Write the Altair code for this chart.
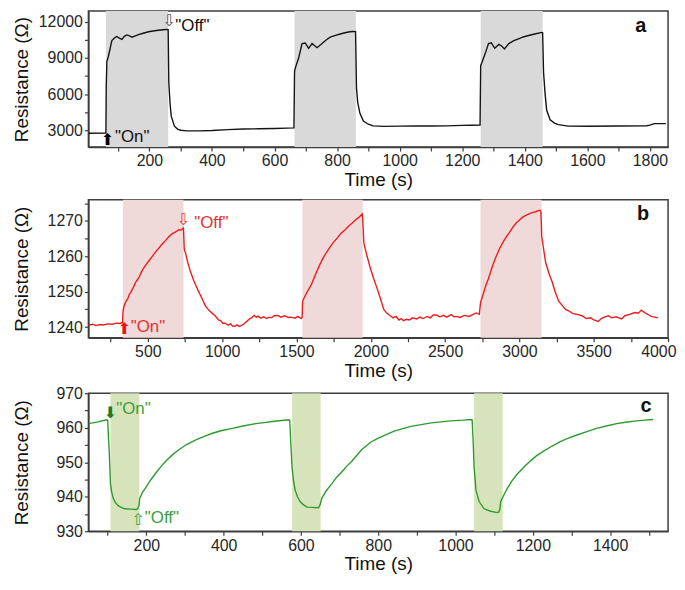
import altair as alt
import pandas as pd

FONT = "Liberation Sans"
GLYPH_FONT = "DejaVu Sans"

# ---------------- panel a ----------------
a_time = [5, 61, 62, 64, 69, 80, 90, 96, 104, 112, 120, 128, 136, 144, 155, 165, 180, 197, 212, 228,
          244, 258, 260, 262, 266, 270, 280, 290, 300, 320, 360, 400, 450, 500, 550, 600, 640, 662,
          664, 667, 677, 688, 698, 709, 720, 736, 752, 765, 778, 795, 810, 825, 841, 852, 859, 862,
          866, 873, 884, 900, 915, 950, 1000, 1050, 1100, 1150, 1200, 1230, 1257, 1259, 1263, 1274,
          1284, 1293, 1304, 1317, 1326, 1335, 1349, 1365, 1380, 1395, 1412, 1432, 1454, 1457, 1460,
          1465, 1470, 1481, 1495, 1507, 1539, 1600, 1700, 1790, 1800, 1814, 1851]
a_res = [2750, 2760, 6500, 8700, 9150, 10450, 10700, 10790, 10650, 10550, 10800, 10920, 10850, 10730,
         10850, 10950, 11060, 11180, 11250, 11310, 11350, 11380, 11350, 7000, 5200, 4150, 3340, 3100,
         3000, 2950, 2950, 2980, 3050, 3100, 3120, 3150, 3180, 3200, 7900, 8220, 9000, 10200, 10250,
         9810, 10200, 9860, 10200, 10500, 10730, 10880, 11000, 11100, 11180, 11210, 11200, 6500, 5300,
         4400, 3760, 3500, 3360, 3320, 3340, 3350, 3350, 3360, 3400, 3410, 3420, 8360, 8620, 9410,
         10200, 10260, 9810, 10130, 10000, 9760, 10200, 10450, 10600, 10750, 10870, 11000, 11130,
         11100, 7800, 6000, 4660, 3870, 3600, 3470, 3340, 3330, 3350, 3370, 3420, 3550, 3550]
a_shade_start = [61, 664, 1259]
a_shade_end = [260, 860, 1457]
a_arrow_t = [66, 262]
a_arrow_r = [2150, 12050]
a_arrow_glyph = ["⬆", "⇩"]
a_label_t = [90, 283]
a_label_r = [2420, 11680]
a_label_text = ['"On"', '"Off"']
a_xticks = list(range(100, 1900, 100))
a_yticks = [3000, 4500, 6000, 7500, 9000, 10500, 12000]

# ---------------- panel b ----------------
b_time = [100, 130, 150, 180, 200, 230, 260, 290, 310, 330, 333, 340, 353, 365, 375, 387, 400, 420,
          442, 460, 480, 509, 530, 555, 576, 600, 620, 642, 665, 690, 709, 725, 738, 740, 745, 753,
          770, 787, 810, 842, 865, 887, 910, 930, 953, 975, 990, 1005, 1020, 1040, 1055, 1070, 1087,
          1100, 1115, 1131, 1150, 1170, 1185, 1198, 1215, 1230, 1242, 1260, 1280, 1300, 1315, 1331,
          1350, 1376, 1395, 1420, 1445, 1464, 1490, 1510, 1531, 1538, 1541, 1560, 1580, 1600, 1625,
          1650, 1675, 1700, 1725, 1750, 1775, 1800, 1825, 1850, 1875, 1900, 1920, 1942, 1946, 1953,
          1975, 1998, 2020, 2042, 2065, 2087, 2110, 2131, 2150, 2170, 2190, 2205, 2220, 2240, 2260,
          2280, 2309, 2330, 2350, 2380, 2400, 2420, 2442, 2465, 2490, 2510, 2540, 2560, 2576, 2600,
          2630, 2660, 2690, 2709, 2730, 2738, 2750, 2776, 2790, 2800, 2820, 2840, 2864, 2890, 2910,
          2931, 2960, 2980, 2998, 3020, 3040, 3064, 3090, 3110, 3125, 3138, 3145, 3150, 3176, 3200,
          3220, 3240, 3264, 3290, 3310, 3331, 3360, 3390, 3420, 3450, 3480, 3500, 3531, 3550, 3575,
          3598, 3620, 3650, 3687, 3710, 3740, 3776, 3800, 3820, 3845, 3870, 3887, 3910, 3931]
b_res = [1240.5, 1240.8, 1240.4, 1240.7, 1240.6, 1240.9, 1240.8, 1241.1, 1241.0, 1241.3, 1244.5,
         1246.0, 1247.3, 1248.0, 1249.2, 1250.0, 1251.0, 1252.8, 1254.2, 1255.8, 1257.2, 1258.8,
         1260.0, 1261.4, 1262.4, 1263.6, 1264.5, 1265.6, 1266.4, 1267.0, 1267.5, 1267.4, 1268.0,
         1267.6, 1262.0, 1261.0, 1258.0, 1255.6, 1253.0, 1250.0, 1248.0, 1246.0, 1244.8, 1244.0,
         1243.2, 1242.0, 1241.8, 1241.0, 1241.1, 1240.5, 1240.9, 1240.3, 1240.2, 1240.6, 1240.2,
         1240.5, 1241.0, 1241.8, 1242.3, 1242.6, 1243.3, 1242.8, 1243.1, 1242.5, 1242.9, 1242.4,
         1242.8, 1242.6, 1243.2, 1243.3, 1242.8, 1243.2, 1242.7, 1242.8, 1242.5, 1243.0, 1242.4,
         1242.8, 1247.3, 1249.0, 1250.5, 1252.0, 1254.6, 1257.0, 1259.2, 1261.0, 1262.6, 1264.0,
         1265.2, 1266.5, 1267.4, 1268.5, 1269.4, 1270.4, 1271.0, 1272.0, 1270.5, 1263.8, 1260.0,
         1256.5, 1253.6, 1251.0, 1248.0, 1245.0, 1243.8, 1243.2, 1242.6, 1243.0, 1242.0, 1242.4,
         1241.8, 1242.2, 1242.0, 1242.6, 1242.3, 1242.8, 1242.4, 1243.0, 1242.6, 1243.4, 1243.4,
         1242.9, 1243.3, 1242.8, 1243.5, 1242.9, 1243.0, 1242.7, 1243.3, 1243.0, 1243.6, 1244.0,
         1243.6, 1246.8, 1248.5, 1252.0, 1253.5, 1254.8, 1257.4, 1259.6, 1262.0, 1264.0, 1265.4,
         1266.6, 1268.5, 1269.5, 1270.2, 1271.0, 1271.5, 1272.0, 1272.4, 1272.6, 1272.9, 1273.0,
         1272.4, 1265.6, 1258.3, 1255.0, 1252.8, 1250.0, 1247.3, 1246.0, 1245.0, 1244.6, 1243.8,
         1243.6, 1243.2, 1242.4, 1242.6, 1242.0, 1241.6, 1242.4, 1242.9, 1243.2, 1242.6, 1242.9,
         1242.3, 1243.2, 1243.6, 1244.1, 1243.9, 1244.8, 1244.0, 1243.4, 1243.0, 1242.8, 1242.6]
b_shade_start = [333, 1540, 2738]
b_shade_end = [740, 1945, 3149]
b_arrow_t = [340, 737]
b_arrow_r = [1239.4, 1270.3]
b_arrow_glyph = ["⬆", "⇩"]
b_label_t = [385, 812]
b_label_r = [1240.0, 1269.3]
b_label_text = ['"On"', '"Off"']
b_xticks = list(range(250, 4250, 250))
b_yticks = [1240, 1245, 1250, 1255, 1260, 1265, 1270, 1275]

# ---------------- panel c ----------------
c_time = [50, 75, 97, 100, 102, 104, 107, 110, 114, 120, 127, 135, 144, 160, 174, 178, 181, 183, 190,
          200, 212, 226, 238, 251, 268, 285, 305, 328, 350, 371, 395, 423, 450, 483, 505, 526, 550,
          568, 571, 574, 577, 581, 585, 591, 598, 606, 616, 630, 641, 646, 650, 654, 666, 680, 692,
          705, 718, 731, 757, 780, 800, 843, 885, 937, 988, 1020, 1040, 1043, 1046, 1048, 1053,
          1061, 1074, 1091, 1108, 1112, 1115, 1117, 1125, 1134, 1146, 1160, 1177, 1194, 1210, 1228,
          1250, 1271, 1292, 1314, 1340, 1365, 1390, 1417, 1440, 1468, 1490, 1511]
c_res = [961.2, 961.7, 962.3, 962.2, 957.0, 953.0, 943.8, 941.5, 939.6, 938.3, 937.4, 936.9, 936.5,
         936.4, 936.3, 936.6, 937.5, 939.6, 941.3, 942.9, 945.0, 947.1, 948.8, 950.4, 952.2, 953.7,
         955.2, 956.5, 957.5, 958.4, 959.2, 959.8, 960.5, 961.2, 961.5, 961.8, 962.1, 962.3, 962.2,
         955.0, 948.5, 944.5, 941.9, 940.0, 938.6, 937.7, 937.0, 936.9, 936.8, 936.9, 937.8, 939.6,
         941.8, 943.8, 945.6, 947.1, 948.8, 950.2, 953.6, 955.8, 957.0, 959.1, 960.4, 961.4, 962.0,
         962.2, 962.4, 962.3, 955.0, 948.5, 941.9, 938.6, 936.5, 935.8, 935.4, 935.6, 936.5, 938.6,
         940.5, 942.4, 944.6, 946.6, 948.6, 950.4, 951.9, 953.2, 954.7, 956.0, 957.0, 957.9, 958.9,
         959.8, 960.5, 961.2, 961.6, 962.0, 962.2, 962.4]
c_shade_start = [107, 577, 1048]
c_shade_end = [182, 651, 1122]
c_arrow_t = [106, 178]
c_arrow_r = [964.4, 933.2]
c_arrow_glyph = ["⬇", "⇧"]
c_label_t = [122, 196]
c_label_r = [965.4, 933.9]
c_label_text = ['"On"', '"Off"']
c_xticks = list(range(100, 1600, 100))
c_yticks = list(range(930, 975, 5))

WIDTH = 584


def panel(time, res, s0, s1, arrow_t, arrow_r, arrow_g, lab_t, lab_r, lab_txt, letter, letter_t,
          letter_r, xdom, ydom, xticks, xstep, yticks, ystep, line_color, shade_color,
          arrow_colors, text_color, height, flush=False):
    xs = alt.Scale(domain=xdom, nice=False, zero=False)
    ys = alt.Scale(domain=ydom, nice=False, zero=False)
    xkw = {"labelFlush": True, "labelFlushOffset": 8} if flush else {}
    xa = alt.Axis(title="Time (s)", values=xticks, format="d",
                  labelExpr=f"datum.value % {xstep} === 0 ? datum.label : ''", **xkw)
    ya = alt.Axis(title="Resistance (Ω)", values=yticks, format="d",
                  labelExpr=f"datum.value % {ystep} === 0 ? datum.label : ''",
                  minExtent=50, maxExtent=50, titlePadding=7)

    def X(f):
        return alt.X(f, type="quantitative", scale=xs, axis=xa)

    def Y(f):
        return alt.Y(f, type="quantitative", scale=ys, axis=ya)

    shade = alt.Chart(pd.DataFrame({"s": s0, "e": s1})).mark_rect(
        color=shade_color).encode(x=X("s"), x2="e")
    line = alt.Chart(pd.DataFrame({"t": time, "r": res})).mark_line(
        color=line_color, strokeWidth=1.4, clip=True).encode(x=X("t"), y=Y("r"))
    layers = [shade, line]
    for i in range(len(arrow_t)):
        layers.append(alt.Chart(pd.DataFrame({"t": [arrow_t[i]], "r": [arrow_r[i]], "g": [arrow_g[i]]}))
                      .mark_text(font=GLYPH_FONT, fontSize=16, color=arrow_colors[i], baseline="middle")
                      .encode(x=X("t"), y=Y("r"), text="g:N"))
    labels = alt.Chart(pd.DataFrame({"t": lab_t, "r": lab_r, "l": lab_txt})).mark_text(
        font=FONT, fontSize=17, color=text_color, align="left", baseline="middle").encode(
        x=X("t"), y=Y("r"), text="l:N")
    lett = alt.Chart(pd.DataFrame({"t": [letter_t], "r": [letter_r], "l": [letter]})).mark_text(
        font=FONT, fontSize=20, fontWeight="bold", color="#111111", baseline="middle").encode(
        x=X("t"), y=Y("r"), text="l:N")
    layers += [labels, lett]
    return alt.layer(*layers).properties(width=WIDTH, height=height)


pa = panel(a_time, a_res, a_shade_start, a_shade_end, a_arrow_t, a_arrow_r, a_arrow_glyph,
           a_label_t, a_label_r, a_label_text, "a", 1771, 11680, [5, 1858], [1600, 12900],
           a_xticks, 200, a_yticks, 3000, "#141414", "#d9d9d9", ["#000000", "#555555"],
           "#111111", 137)
pb = panel(b_time, b_res, b_shade_start, b_shade_end, b_arrow_t, b_arrow_r, b_arrow_glyph,
           b_label_t, b_label_r, b_label_text, "b", 3831, 1272, [100, 4000], [1237, 1276],
           b_xticks, 500, b_yticks, 10, "#ee1c1c", "#f0d9d9", ["#ee1111", "#ee3333"],
           "#e83030", 139, flush=True)
pc = panel(c_time, c_res, c_shade_start, c_shade_end, c_arrow_t, c_arrow_r, c_arrow_glyph,
           c_label_t, c_label_r, c_label_text, "c", 1493, 966.3, [50, 1550], [930, 970],
           c_xticks, 200, c_yticks, 10, "#2e9a2e", "#d7e4bb", ["#1e7a1e", "#3aa03a"],
           "#3aa03a", 139)

chart = alt.vconcat(pa, pb, pc, spacing=3).properties(
    padding={"left": 4, "top": 0, "right": 0, "bottom": 0}
).configure_view(
    stroke="#3d3d3d", strokeWidth=1.5
).configure_axis(
    labelFont=FONT, titleFont=FONT, labelFontSize=16, titleFontSize=19,
    titleFontWeight="normal", labelColor="#262626", titleColor="#111111",
    domainColor="#3d3d3d", domainWidth=1.5, tickColor="#3d3d3d", tickWidth=1.2,
    tickSize=4, grid=False, labelPadding=2, titlePadding=2, labelFlush=False,
    labelOverlap=False
)

chart.save("out.html", embed_options={"renderer": "svg", "actions": False})
